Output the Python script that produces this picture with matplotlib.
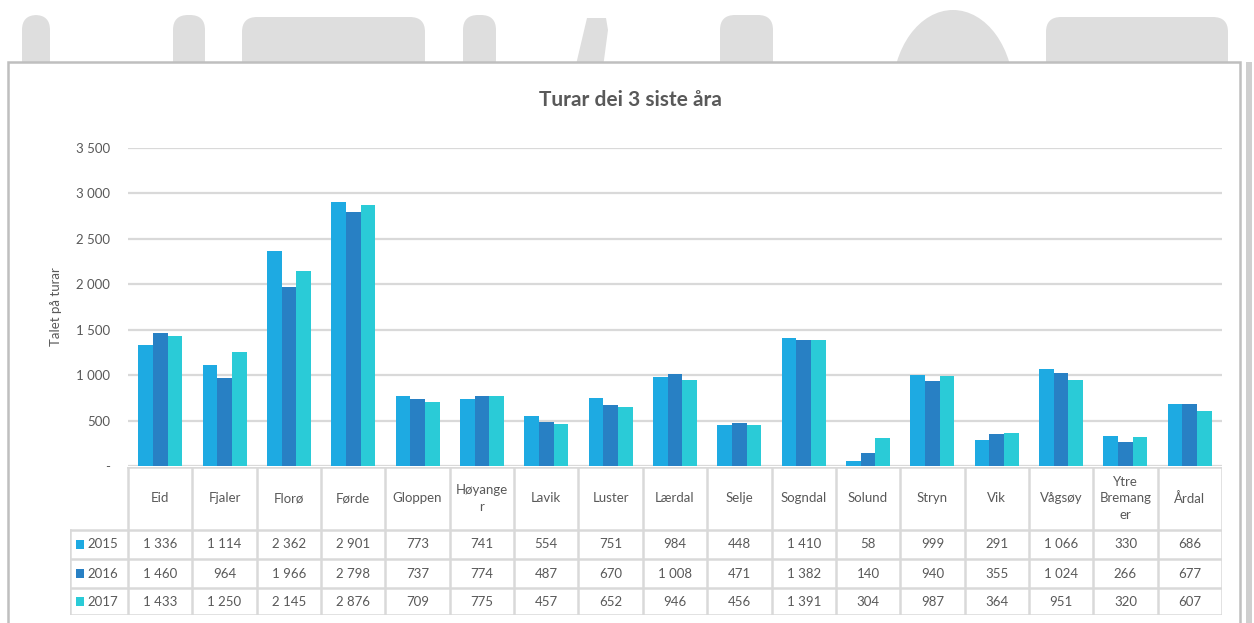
import matplotlib.pyplot as plt
import matplotlib.patches as mpatches
import numpy as np

kommunar = ['Eid', 'Fjaler', 'Florø', 'Førde', 'Gloppen', 'Høyange\nr', 'Lavik', 'Luster',
            'Lærdal', 'Selje', 'Sogndal', 'Solund', 'Stryn', 'Vik', 'Vågsøy',
            'Ytre\nBremang\ner', 'Årdal']
aar = ['2015', '2016', '2017']
turar_2015 = [1336, 1114, 2362, 2901, 773, 741, 554, 751, 984, 448, 1410, 58, 999, 291, 1066, 330, 686]
turar_2016 = [1460, 964, 1966, 2798, 737, 774, 487, 670, 1008, 471, 1382, 140, 940, 355, 1024, 266, 677]
turar_2017 = [1433, 1250, 2145, 2876, 709, 775, 457, 652, 946, 456, 1391, 304, 987, 364, 951, 320, 607]
yticks = [0, 500, 1000, 1500, 2000, 2500, 3000, 3500]

farger = ['#1EAAE2', '#2880C4', '#2ACBD7']
grey = '#595959'
linec = '#D9D9D9'

plt.rcParams['font.family'] = ['Lato', 'DejaVu Sans']

W, H = 1254, 623
fig = plt.figure(figsize=(W / 100, H / 100), dpi=100)


def fx(x):
    return x / W


def fy(y):
    return 1 - y / H


# watermark shapes behind the frame
wm = '#DEDEDE'
for x0, x1, y0 in [(22, 50, 15), (173, 205, 15), (242, 425, 17), (463, 496, 15),
                   (720, 773, 15), (1046, 1228, 17)]:
    fig.patches.append(mpatches.FancyBboxPatch(
        (fx(x0), fy(90)), fx(x1 - x0), fy(y0) - fy(90),
        boxstyle='round,pad=0,rounding_size=0.012', transform=fig.transFigure,
        facecolor=wm, edgecolor='none', zorder=0, mutation_aspect=2))
fig.patches.append(mpatches.Polygon([(fx(570), fy(90)), (fx(587), fy(18)), (fx(606), fy(18)),
                                     (fx(608), fy(30)), (fx(600), fy(90))],
                                    closed=True, transform=fig.transFigure, facecolor=wm,
                                    edgecolor='none', zorder=0))
fig.patches.append(mpatches.Ellipse((fx(953), fy(95)), fx(122), fy(0) - fy(170),
                                    transform=fig.transFigure, facecolor=wm,
                                    edgecolor='none', zorder=0))

# chart frame
fig.patches.append(mpatches.Rectangle((fx(8), fy(640)), fx(1240 - 8), fy(62) - fy(640),
                                      transform=fig.transFigure, facecolor='white',
                                      edgecolor='#BFBFBF', lw=1.8, zorder=1))
fig.patches.append(mpatches.Rectangle((fx(1246), fy(640)), fx(6), fy(62) - fy(640),
                                      transform=fig.transFigure, facecolor='#CFCFCF',
                                      edgecolor='none', zorder=1))

fig.text(fx(630), fy(100), 'Turar dei 3 siste åra', ha='center', va='center',
         fontsize=15, fontweight='bold', color=grey, zorder=3)

# bar chart
ax = fig.add_axes([fx(128), fy(466), fx(1222 - 128), fy(148) - fy(466)], zorder=2)
ax.patch.set_alpha(0)
x = np.arange(len(kommunar))
bw = 0.228
for i, vals in enumerate([turar_2015, turar_2016, turar_2017]):
    ax.bar(x + (i - 1) * bw, vals, bw, color=farger[i], zorder=3)

ax.set_xlim(-0.5, len(kommunar) - 0.5)
ax.set_ylim(0, 3500)
ax.set_yticks(yticks)
ax.set_yticklabels(['-' if v == 0 else f'{v:,}'.replace(',', ' ') for v in yticks],
                   fontsize=9.5, color=grey)
ax.tick_params(axis='y', length=0, pad=13)
ax.set_xticks([])
ax.grid(axis='y', color=linec, lw=1.6, zorder=0)
for s in ax.spines.values():
    s.set_visible(False)
ax.set_ylabel('Talet på turar', fontsize=9.5, color=grey, labelpad=10)

# data table under the chart
tax = fig.add_axes([fx(70), fy(615), fx(1222 - 70), fy(467) - fy(615)], zorder=2)
tax.patch.set_alpha(0)
left = -0.5 - 58 / (1094 / 17)
tax.set_xlim(left, len(kommunar) - 0.5)
tax.set_ylim(615, 467)
tax.axis('off')

row_y = [467, 530, 559, 588, 615]
lk = dict(color=linec, lw=1.8, solid_capstyle='projecting')
tax.plot([-0.5, len(kommunar) - 0.5], [467, 467], **lk)
for yy in row_y[1:]:
    tax.plot([left, len(kommunar) - 0.5], [yy, yy], **lk)
tax.plot([left, left], [530, 615], **lk)
for k in range(len(kommunar) + 1):
    tax.plot([k - 0.5, k - 0.5], [467, 615], **lk)

for k, namn in enumerate(kommunar):
    tax.text(k, 498.5, namn, ha='center', va='center', fontsize=9.5, color=grey,
             linespacing=1.45)

for r, vals in enumerate([turar_2015, turar_2016, turar_2017]):
    yc = (row_y[r + 1] + row_y[r + 2]) / 2
    tax.add_patch(mpatches.Rectangle((left + 0.1, yc - 4.5), 0.12, 9,
                                     facecolor=farger[r], edgecolor='none'))
    tax.text(left + 0.27, yc, aar[r], ha='left', va='center', fontsize=9.5, color=grey)
    for k, v in enumerate(vals):
        tax.text(k, yc, f'{v:,}'.replace(',', ' '), ha='center', va='center',
                 fontsize=9.5, color=grey)

fig.savefig('out.png', dpi=100)
